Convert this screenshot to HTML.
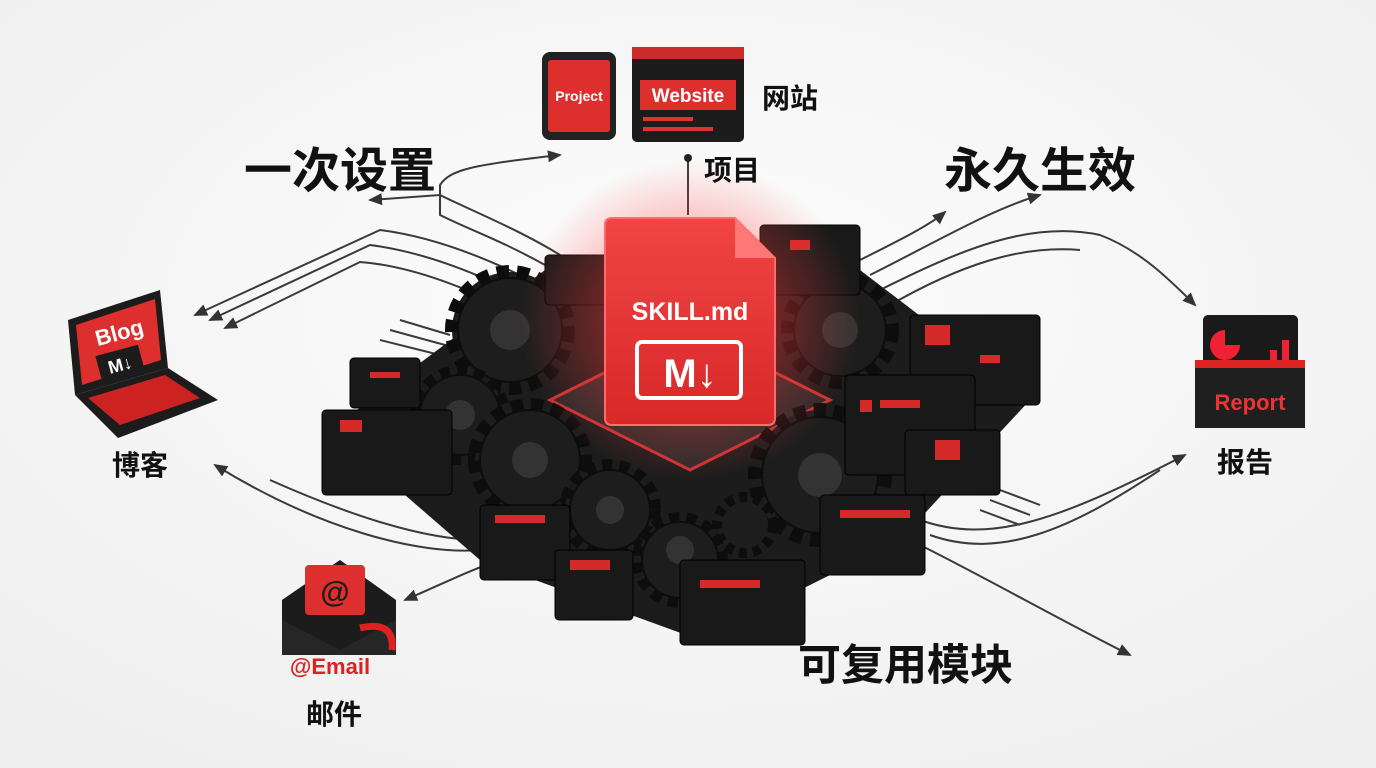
<!DOCTYPE html>
<html><head><meta charset="utf-8"><style>
html,body{margin:0;padding:0;width:1376px;height:768px;overflow:hidden;background:#f6f6f6}
svg{display:block}
text{font-family:"Liberation Sans","Noto Sans CJK SC",sans-serif}
.cn{font-family:"Liberation Sans","Noto Sans CJK SC",sans-serif;font-weight:700;fill:#111}
</style></head><body>
<svg width="1376" height="768" viewBox="0 0 1376 768" xmlns="http://www.w3.org/2000/svg">
<defs>
<radialGradient id="bg" cx="50%" cy="40%" r="75%"><stop offset="0" stop-color="#fdfdfd"/><stop offset="1" stop-color="#eeeeee"/></radialGradient>
<radialGradient id="glow" cx="50%" cy="50%" r="50%"><stop offset="0" stop-color="#ff2a2a" stop-opacity=".75"/><stop offset=".6" stop-color="#ff3b3b" stop-opacity=".3"/><stop offset="1" stop-color="#ff5050" stop-opacity="0"/></radialGradient>
<linearGradient id="doc" x1="0" y1="0" x2="0" y2="1"><stop offset="0" stop-color="#f04545"/><stop offset="1" stop-color="#d82828"/></linearGradient>
<marker id="ar" markerWidth="8" markerHeight="8" refX="6" refY="4" orient="auto"><path d="M0,1 L7,4 L0,7 z" fill="#333"/></marker>
</defs>
<rect width="1376" height="768" fill="url(#bg)"/>

<g fill="none" stroke="#3a3a3a" stroke-width="2">
<path d="M560 255 C520 230 470 210 440 195 L370 200" marker-end="url(#ar)"/>
<path d="M545 265 C500 240 470 230 440 215 L440 185 C450 170 470 165 560 155" marker-end="url(#ar)"/>
<path d="M530 280 C470 250 420 235 380 230 L195 315" marker-end="url(#ar)"/>
<path d="M520 295 C460 265 410 250 370 245 L210 320" marker-end="url(#ar)"/>
<path d="M510 310 C450 280 400 265 360 262 L225 328" marker-end="url(#ar)"/>
<path d="M480 540 C430 540 360 520 270 480"/>
<path d="M480 550 C420 555 320 530 215 465" marker-end="url(#ar)"/>
<path d="M500 560 C470 570 440 585 405 600" marker-end="url(#ar)"/>
<path d="M860 260 C900 240 930 225 945 212" marker-end="url(#ar)"/>
<path d="M870 275 C940 240 990 210 1040 195" marker-end="url(#ar)"/>
<path d="M880 290 C960 250 1030 220 1100 235 C1140 250 1170 280 1195 305" marker-end="url(#ar)"/>
<path d="M890 305 C960 265 1020 245 1080 250"/>
<path d="M920 520 C990 545 1060 520 1185 455" marker-end="url(#ar)"/>
<path d="M930 535 C1000 560 1070 530 1160 470"/>
<path d="M920 545 C990 580 1060 620 1130 655" marker-end="url(#ar)"/>
<path d="M688 215 L688 160"/>
<path d="M400 320 L450 335 M390 330 L445 345 M380 340 L440 355"/>
<path d="M1000 490 L1040 505 M990 500 L1030 515 M980 510 L1020 525"/>
</g>
<circle cx="688" cy="158" r="4" fill="#222"/>

<path d="M330 430 L545 270 L700 240 L860 270 L1030 400 L900 540 L700 640 L480 560 Z" fill="#1c1c1c"/>
<path d="M550 400 L690 330 L830 400 L690 470 Z" fill="#2a2a2a" stroke="#c33" stroke-width="3"/>

<g fill="#1d1d1d" stroke="#0d0d0d" stroke-width="2">
<circle cx="510" cy="330" r="58" stroke-dasharray="12 8" stroke-width="14"/>
<circle cx="510" cy="330" r="52"/>
<circle cx="840" cy="330" r="52" stroke-dasharray="12 8" stroke-width="14"/>
<circle cx="840" cy="330" r="46"/>
<circle cx="460" cy="415" r="44" stroke-dasharray="10 7" stroke-width="12"/>
<circle cx="460" cy="415" r="40"/>
<circle cx="530" cy="460" r="55" stroke-dasharray="12 8" stroke-width="14"/>
<circle cx="530" cy="460" r="50"/>
<circle cx="820" cy="475" r="65" stroke-dasharray="12 8" stroke-width="14"/>
<circle cx="820" cy="475" r="58"/>
<circle cx="610" cy="510" r="45" stroke-dasharray="10 7" stroke-width="12"/>
<circle cx="610" cy="510" r="40"/>
<circle cx="680" cy="560" r="42" stroke-dasharray="10 7" stroke-width="12"/>
<circle cx="680" cy="560" r="38"/>
<circle cx="745" cy="525" r="28" stroke-dasharray="8 6" stroke-width="10"/>
</g>
<g fill="#333"><circle cx="510" cy="330" r="20"/><circle cx="840" cy="330" r="18"/><circle cx="460" cy="415" r="15"/><circle cx="530" cy="460" r="18"/><circle cx="820" cy="475" r="22"/><circle cx="610" cy="510" r="14"/><circle cx="680" cy="550" r="14"/></g>

<g fill="#191919" stroke="#000" stroke-width="1">
<rect x="322" y="410" width="130" height="85" rx="4"/>
<rect x="350" y="358" width="70" height="50" rx="4"/>
<rect x="545" y="255" width="70" height="50" rx="4"/>
<rect x="760" y="225" width="100" height="70" rx="4"/>
<rect x="910" y="315" width="130" height="90" rx="4"/>
<rect x="845" y="375" width="130" height="100" rx="4"/>
<rect x="905" y="430" width="95" height="65" rx="4"/>
<rect x="820" y="495" width="105" height="80" rx="4"/>
<rect x="480" y="505" width="90" height="75" rx="4"/>
<rect x="555" y="550" width="78" height="70" rx="4"/>
<rect x="680" y="560" width="125" height="85" rx="4"/>
</g>
<g fill="#d42a2a">
<rect x="340" y="420" width="22" height="12"/><rect x="370" y="372" width="30" height="6"/><rect x="790" y="240" width="20" height="10"/>
<rect x="925" y="325" width="25" height="20"/><rect x="980" y="355" width="20" height="8"/><rect x="880" y="400" width="40" height="8"/>
<rect x="935" y="440" width="25" height="20"/><rect x="840" y="510" width="70" height="8"/><rect x="495" y="515" width="50" height="8"/>
<rect x="570" y="560" width="40" height="10"/><rect x="700" y="580" width="60" height="8"/><rect x="860" y="400" width="12" height="12"/>
</g>

<ellipse cx="690" cy="320" rx="170" ry="160" fill="url(#glow)"/>
<path d="M605 225 Q605 218 612 218 L735 218 L775 258 L775 418 Q775 425 768 425 L612 425 Q605 425 605 418 Z" fill="url(#doc)" stroke="#ff6a6a" stroke-width="2"/>
<path d="M735 218 L735 258 L775 258 Z" fill="#f77"/>
<text x="690" y="320" text-anchor="middle" font-size="25" font-weight="700" fill="#fff">SKILL.md</text>
<rect x="637" y="342" width="104" height="56" rx="5" fill="none" stroke="#fff" stroke-width="4"/>
<text x="690" y="387" text-anchor="middle" font-size="40" font-weight="700" fill="#fff">M↓</text>

<rect x="542" y="52" width="74" height="88" rx="8" fill="#222"/>
<rect x="548" y="60" width="62" height="72" rx="3" fill="#de2f2f"/>
<text x="579" y="101" text-anchor="middle" font-size="14" font-weight="700" fill="#fff">Project</text>
<rect x="632" y="47" width="112" height="95" rx="5" fill="#1c1c1c"/>
<rect x="632" y="47" width="112" height="12" fill="#cc2b2b"/>
<rect x="640" y="80" width="96" height="30" fill="#de2f2f"/>
<text x="688" y="102" text-anchor="middle" font-size="19" font-weight="700" fill="#fff">Website</text>
<rect x="643" y="117" width="50" height="4" fill="#d33"/><rect x="643" y="127" width="70" height="4" fill="#d33"/>
<text x="762" y="108" class="cn" font-size="28">网站</text>
<text x="704" y="180" class="cn" font-size="28">项目</text>

<path d="M68 320 L160 290 L168 368 L75 395 Z" fill="#1c1c1c"/>
<path d="M76 325 L155 299 L161 360 L82 385 Z" fill="#de2f2f"/>
<text x="120" y="340" text-anchor="middle" font-size="22" font-weight="700" fill="#fff" transform="rotate(-15 120 335)">Blog</text>
<rect x="98" y="350" width="44" height="26" fill="#1c1c1c" transform="rotate(-15 120 363)"/>
<text x="120" y="371" text-anchor="middle" font-size="18" font-weight="700" fill="#fff" transform="rotate(-15 120 365)">M↓</text>
<path d="M75 395 L168 368 L218 400 L118 438 Z" fill="#1c1c1c"/>
<path d="M88 398 L165 375 L200 398 L120 425 Z" fill="#c22"/>
<text x="112" y="475" class="cn" font-size="28">博客</text>

<rect x="1203" y="315" width="95" height="70" rx="5" fill="#1a1a1a"/>
<path d="M1225 330 a15 15 0 1 0 15 15 l-15 0 z" fill="#e23"/>
<rect x="1258" y="360" width="7" height="20" fill="#e23"/><rect x="1270" y="350" width="7" height="30" fill="#e23"/><rect x="1282" y="340" width="7" height="40" fill="#e23"/>
<path d="M1195 360 L1305 360 L1305 428 L1195 428 Z" fill="#1f1f1f"/>
<rect x="1195" y="360" width="110" height="8" fill="#d22"/>
<text x="1250" y="410" text-anchor="middle" font-size="22" font-weight="700" fill="#e33">Report</text>
<text x="1217" y="472" class="cn" font-size="28">报告</text>

<path d="M282 600 L340 560 L396 600 L396 655 L282 655 Z" fill="#1c1c1c"/>
<rect x="305" y="565" width="60" height="50" rx="4" fill="#de2f2f"/>
<text x="335" y="602" text-anchor="middle" font-size="30" font-weight="700" fill="#1c1c1c">@</text>
<path d="M282 620 L340 650 L396 620 L396 655 L282 655 Z" fill="#262626"/>
<path d="M360 628 Q395 620 392 650" fill="none" stroke="#d22" stroke-width="7"/>
<text x="330" y="674" text-anchor="middle" font-size="22" font-weight="700" fill="#d22">@Email</text>
<text x="306" y="724" class="cn" font-size="28">邮件</text>

<text x="244" y="187" class="cn" font-size="48">一次设置</text>
<text x="944" y="187" class="cn" font-size="48">永久生效</text>
<text x="798" y="680" class="cn" font-size="43">可复用模块</text>
</svg>
</body></html>
